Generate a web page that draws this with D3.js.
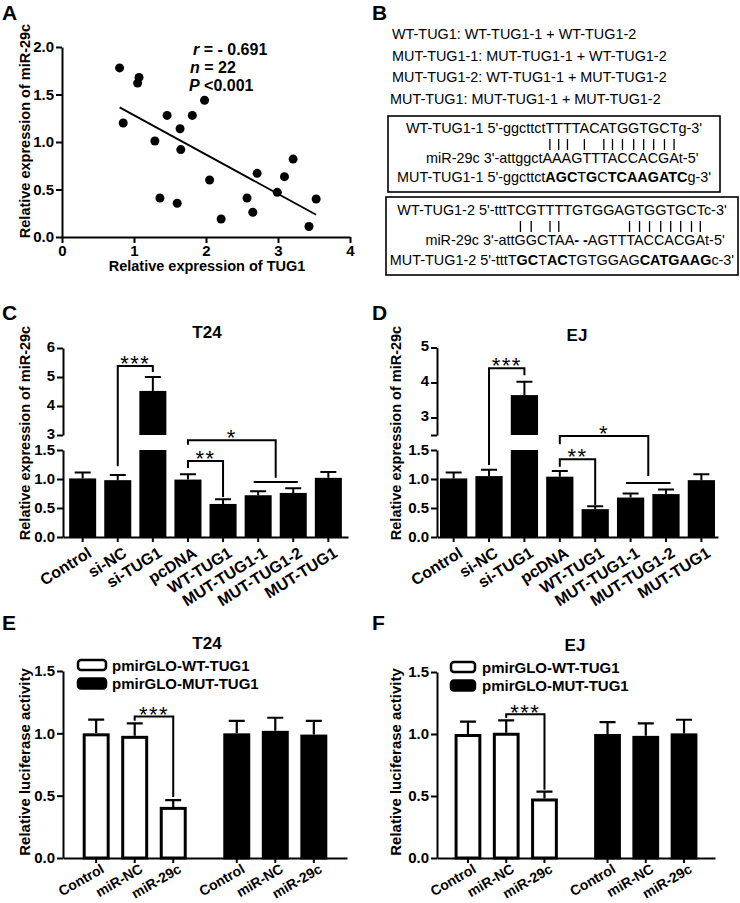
<!DOCTYPE html>
<html><head><meta charset="utf-8">
<script src="https://cdn.jsdelivr.net/npm/d3@7"></script>
<style>
body{margin:0;background:#fff}
svg text{font-family:"Liberation Sans",Arial,sans-serif;fill:#000}
</style></head><body>
<svg id="fig" width="740" height="903"></svg>
<script>
// ================= DATA =================
// Panel A: scatter
const tugExpr = [0.80,0.85,1.07,1.05,1.29,1.36,1.46,1.60,1.64,1.65,1.81,1.98,2.05,2.21,2.57,2.65,2.71,2.99,3.09,3.21,3.53,3.43];
const mirExpr = [1.78,1.20,1.68,1.62,1.01,0.41,1.28,0.355,1.14,0.92,1.28,1.44,0.60,0.19,0.41,0.26,0.67,0.47,0.635,0.82,0.40,0.11];
const fitSlope = -0.414;
const fitIntercept = 1.696;
const statLines = [["r"," = - 0.691"],["n"," = 22"],["P"," <0.001"]];
const xTicksA = [0,1,2,3,4];
const yTicksA = [0,0.5,1,1.5,2];

// Panel B: constructs and binding sites
const bHeader = ["WT-TUG1: WT-TUG1-1 + WT-TUG1-2","MUT-TUG1-1: MUT-TUG1-1 + WT-TUG1-2","MUT-TUG1-2: WT-TUG1-1 + MUT-TUG1-2","MUT-TUG1: MUT-TUG1-1 + MUT-TUG1-2"];
const site1WT  = [["WT-TUG1-1 5'-ggcttctTTTTACATGGTGCTg-3'",false]];
const site1Mir = [["miR-29c 3'-attggctAAAGTTTACCACGAt-5'",false]];
const site1Mut = [["MUT-TUG1-1 5'-ggcttct",false],["AGC",true],["T",false],["G",true],["C",false],["TCAAGATC",true],["g-3'",false]];
const site1Seed = ["TTTTACATGGTGCT","AAAGTTTACCACGA"];
const site1Pairs = [0,1,2,4,6,7,8,9,10,11,12,13];
const site2WT  = [["WT-TUG1-2 5'-tttTCGTTTTGTGGAGTGGTGCTc-3'",false]];
const site2Mir = [["miR-29c 3'-attGGCTAA",false],["- -",true],["AGTTTACCACGAt-5'",false]];
const site2Mut = [["MUT-TUG1-2 5'-tttT",false],["GC",true],["T",false],["AC",true],["TGTGGAG",false],["CATGAAG",true],["c-3'",false]];
const site2Seed = ["TCGTTTTGTGGAGTGGTGCT","AGTTTACCACGA"];
const site2Pairs = [1,2,4,5,12,13,14,15,16,17,18,19];

// Panels C / D
const groupsCD = ["Control","si-NC","si-TUG1","pcDNA","WT-TUG1","MUT-TUG1-1","MUT-TUG1-2","MUT-TUG1"];
const t24Mir    = [1.01,0.98,4.52,0.99,0.57,0.72,0.76,1.02];
const t24MirErr = [0.10,0.09,0.48,0.09,0.08,0.07,0.08,0.10];
const ejMir     = [1.01,1.05,3.64,1.04,0.48,0.68,0.74,0.98];
const ejMirErr  = [0.10,0.11,0.38,0.10,0.05,0.07,0.08,0.10];
const lowerTicksCD = [0,0.5,1,1.5];
const t24UpperTicks = [3,4,5,6];
const ejUpperTicks = [2.5,3,4,5];
const t24Brackets = [
  {a:"si-NC", b:["si-TUG1"], top:["U",5.38], dropA:["L",1.22], dropB:["U",5.17], label:"***"},
  {a:"pcDNA", b:["MUT-TUG1-1","MUT-TUG1-2"], top:["L",1.67], dropA:["L",1.59], dropB:["L",1.02], label:"*"},
  {a:"pcDNA", b:["WT-TUG1"], top:["L",1.31], dropA:["L",1.19], dropB:["L",0.69], label:"**"}
];
const t24Span = {a:"MUT-TUG1-1", b:"MUT-TUG1-2", y:["L",0.95]};
const ejBrackets = [
  {a:"si-NC", b:["si-TUG1"], top:["U",4.41], dropA:["L",1.24], dropB:["U",4.21], label:"***"},
  {a:"pcDNA", b:["MUT-TUG1-1","MUT-TUG1-2"], top:["L",1.74], dropA:["L",1.60], dropB:["L",1.05], label:"*"},
  {a:"pcDNA", b:["WT-TUG1"], top:["L",1.34], dropA:["L",1.21], dropB:["L",0.55], label:"**"}
];
const ejSpan = {a:"MUT-TUG1-1", b:"MUT-TUG1-2", y:["L",0.93]};

// Panels E / F
const groupsEF = ["Control","miR-NC","miR-29c"];
const vectorsEF = ["pmirGLO-WT-TUG1","pmirGLO-MUT-TUG1"];
const t24Wt = [1.00,0.98,0.41];  const t24WtErr = [0.11,0.10,0.055];
const t24Mut = [1.00,1.02,0.99]; const t24MutErr = [0.10,0.105,0.11];
const ejWt = [1.00,1.01,0.48];   const ejWtErr = [0.10,0.10,0.055];
const ejMut = [1.00,0.985,1.005]; const ejMutErr = [0.095,0.10,0.11];
const ticksEF = [0,0.5,1,1.5];
const t24Luc = {a:"miR-NC", b:"miR-29c", top:1.136, dropA:1.10, dropB:0.49, label:"***"};
const ejLuc  = {a:"miR-NC", b:"miR-29c", top:1.16, dropA:1.13, dropB:0.55, label:"***"};

// ================= DRAWING =================
const svg = d3.select("#fig");
svg.append("rect").attr("width",740).attr("height",903).attr("fill","#fff");

function styleAxis(g, fs){
  g.select(".domain").attr("stroke","#000").attr("stroke-width",2);
  g.selectAll(".tick line").attr("stroke","#000").attr("stroke-width",2);
  g.selectAll(".tick text").attr("fill","#000").attr("font-size",fs).attr("font-weight","bold")
    .attr("font-family",'"Liberation Sans",Arial,sans-serif');
}
function letter(t,x,y){ svg.append("text").attr("x",x).attr("y",y).attr("font-size",21).attr("font-weight","bold").text(t); }
function yTitle(t,x,y,fs){
  svg.append("text").attr("transform",`translate(${x},${y}) rotate(-90)`).attr("text-anchor","middle")
    .attr("font-size",fs).attr("font-weight","bold").text(t);
}

// ---------- Panel A ----------
letter("A",2,19.5);
const xA = d3.scaleLinear().domain([0,4]).range([62,350]);
const yA = d3.scaleLinear().domain([0,2]).range([237,47]);
svg.append("g").attr("transform",`translate(0,${yA(0)})`)
  .call(d3.axisBottom(xA).tickValues(xTicksA).tickFormat(d3.format("d")).tickSize(6).tickSizeOuter(0).tickPadding(2))
  .call(g=>styleAxis(g,15));
svg.append("g").attr("transform",`translate(${xA(0)},0)`)
  .call(d3.axisLeft(yA).tickValues(yTicksA).tickFormat(d3.format(".1f")).tickSize(6).tickSizeOuter(0).tickPadding(2))
  .call(g=>styleAxis(g,15));
svg.append("g").selectAll("circle").data(tugExpr.map((v,i)=>[v,mirExpr[i]])).join("circle")
  .attr("cx",d=>xA(d[0])).attr("cy",d=>yA(d[1])).attr("r",4.5).attr("fill","#000");
const fitX = d3.extent(tugExpr);
svg.append("line").attr("x1",xA(fitX[0])).attr("y1",yA(fitIntercept+fitSlope*fitX[0]))
  .attr("x2",xA(fitX[1])).attr("y2",yA(fitIntercept+fitSlope*fitX[1])).attr("stroke","#000").attr("stroke-width",1.8);
const statX = [193,190,189], statY = [55,73,91];
statLines.forEach((s,i)=>{
  const t = svg.append("text").attr("x",statX[i]).attr("y",statY[i]).attr("font-size",16).attr("font-weight","bold");
  t.append("tspan").attr("font-style","italic").text(s[0]);
  t.append("tspan").text(s[1]);
});
svg.append("text").attr("x",207).attr("y",271).attr("text-anchor","middle").attr("font-size",14.5).attr("font-weight","bold").text("Relative expression of TUG1");
yTitle("Relative expression of miR-29c",29.5,131,14.5);

// ---------- Panel B ----------
letter("B",372,19.5);
const headX = [392,392,392,390];
bHeader.forEach((t,i)=>{
  svg.append("text").attr("x",headX[i]).attr("y",39+i*21.7).attr("font-size",14.4).text(t);
});
function segText(segs,x,y,anchor){
  const t = svg.append("text").attr("x",x).attr("y",y).attr("font-size",14.4).attr("text-anchor",anchor);
  segs.forEach(([s,b])=>{ const sp=t.append("tspan").text(s); if(b) sp.attr("font-weight","bold"); });
  return t;
}
function seqBox(box, wt, mir, mut, seeds, pairs, ys){
  svg.append("rect").attr("x",box[0]).attr("y",box[1]).attr("width",box[2]).attr("height",box[3])
    .attr("fill","none").attr("stroke","#000").attr("stroke-width",1.6);
  const cxBox = box[0]+box[2]/2;
  const tW = segText(wt,cxBox,ys[0],"middle");
  segText(mut,cxBox,ys[2],"middle");
  const tR = segText(mir,0,ys[1],"start");
  const wtStr = wt.map(s=>s[0]).join(""), mirStr = mir.map(s=>s[0]).join("");
  const wS = wtStr.indexOf(seeds[0]), mS = mirStr.indexOf(seeds[1]);
  const wLast = tW.node().getExtentOfChar(wS+seeds[0].length-1);
  const mLast = tR.node().getExtentOfChar(mS+seeds[1].length-1);
  tR.attr("x",(wLast.x+wLast.width/2)-(mLast.x+mLast.width/2));
  pairs.forEach(p=>{
    const e = tW.node().getExtentOfChar(wS+p);
    svg.append("line").attr("x1",e.x+e.width/2).attr("x2",e.x+e.width/2)
      .attr("y1",ys[0]+6).attr("y2",ys[1]-13).attr("stroke","#000").attr("stroke-width",1.3);
  });
}
seqBox([388,116,332,76], site1WT, site1Mir, site1Mut, site1Seed, site1Pairs, [133,163,182]);
seqBox([386,197,352,78], site2WT, site2Mir, site2Mut, site2Seed, site2Pairs, [215,245,265]);

// ---------- Panels C / D ----------
function brokenPanel(o){
  const g = svg.append("g");
  const x = d3.scaleBand().domain(groupsCD).range(o.xr).paddingInner(0.23).paddingOuter(o.po);
  const yL = d3.scaleLinear().domain([0,1.5]).range(o.yLr);
  const yU = d3.scaleLinear().domain(o.uDom).range(o.yUr);
  const Y = (seg,v)=> seg==="U"? yU(v): yL(v);
  const cx = c => x(c)+x.bandwidth()/2;
  g.append("g").attr("transform",`translate(${o.xr[0]},0)`)
    .call(d3.axisLeft(yL).tickValues(lowerTicksCD).tickFormat(d3.format(".1f")).tickSize(6).tickSizeOuter(0).tickPadding(2))
    .call(a=>styleAxis(a,15));
  g.append("g").attr("transform",`translate(${o.xr[0]},0)`)
    .call(d3.axisLeft(yU).tickValues(o.uTicks).tickFormat(d=>Number.isInteger(d)?d:"").tickSize(6).tickSizeOuter(0).tickPadding(2))
    .call(a=>{ styleAxis(a,15); a.selectAll(".tick text").attr("dy","0.2em"); });
  g.append("g").attr("transform",`translate(0,${o.yLr[0]})`)
    .call(d3.axisBottom(x).tickSize(5).tickSizeOuter(0).tickFormat(""))
    .call(a=>styleAxis(a,15));
  g.selectAll("text.cat").data(groupsCD).join("text").attr("class","cat")
    .attr("transform",d=>`translate(${cx(d)+4},${o.yLr[0]+9}) rotate(-32)`)
    .attr("text-anchor","end").attr("dy","0.72em").attr("font-size",16).attr("font-weight","bold").text(d=>d);
  const rows = groupsCD.map((c,i)=>({c, v:o.vals[i], e:o.errs[i]}));
  // bars (lower part)
  g.selectAll("rect.low").data(rows).join("rect").attr("class","low")
    .attr("x",d=>x(d.c)).attr("width",x.bandwidth())
    .attr("y",d=>yL(Math.min(d.v,1.5))).attr("height",d=>yL(0)-yL(Math.min(d.v,1.5))).attr("fill","#000");
  // bars (upper part, broken axis)
  g.selectAll("rect.up").data(rows.filter(d=>d.v>1.5)).join("rect").attr("class","up")
    .attr("x",d=>x(d.c)).attr("width",x.bandwidth())
    .attr("y",d=>yU(d.v)).attr("height",d=>yU(o.uDom[0])-yU(d.v)).attr("fill","#000");
  // error bars
  rows.forEach(d=>{
    const f = d.v>1.5? yU: yL;
    const c = cx(d.c);
    g.append("path").attr("d",`M${c},${f(d.v)}V${f(d.v+d.e)}M${c-8},${f(d.v+d.e)}H${c+8}`)
      .attr("stroke","#000").attr("stroke-width",2).attr("fill","none");
  });
  // significance brackets
  o.brackets.forEach(b=>{
    const xa = cx(b.a), xb = d3.mean(b.b,cx), yt = Y(...b.top);
    g.append("path").attr("d",`M${xa},${Y(...b.dropA)}V${yt}H${xb}V${Y(...b.dropB)}`)
      .attr("stroke","#000").attr("stroke-width",2).attr("fill","none");
    g.append("text").attr("x",(xa+xb)/2).attr("y",yt+5).attr("text-anchor","middle")
      .attr("font-size",22).attr("letter-spacing",1.5).text(b.label);
  });
  const sy = Y(...o.span.y);
  g.append("line").attr("x1",cx(o.span.a)-4.5).attr("x2",cx(o.span.b)+4.5).attr("y1",sy).attr("y2",sy)
    .attr("stroke","#000").attr("stroke-width",2);
  g.append("text").attr("x",o.title[1]).attr("y",o.title[2]).attr("text-anchor","middle")
    .attr("font-size",17).attr("font-weight","bold").text(o.title[0]);
}
letter("C",2,319.5);
brokenPanel({xr:[63,348], po:0.175, yLr:[537,450], uDom:[3,6], yUr:[435,348], uTicks:t24UpperTicks,
  vals:t24Mir, errs:t24MirErr, brackets:t24Brackets, span:t24Span, title:["T24",207,338]});
yTitle("Relative expression of miR-29c",29.5,433,14.5);
letter("D",372,319.5);
brokenPanel({xr:[437,718], po:0.085, yLr:[537,450], uDom:[2.5,5], yUr:[435,347.5], uTicks:ejUpperTicks,
  vals:ejMir, errs:ejMirErr, brackets:ejBrackets, span:ejSpan, title:["EJ",577,341]});
yTitle("Relative expression of miR-29c",401,433,14.5);

// ---------- Panels E / F ----------
function lucPanel(o){
  const g = svg.append("g");
  const outer = d3.scaleBand().domain(vectorsEF).range(o.xr).paddingInner(0.26).paddingOuter(o.po);
  const inner = d3.scaleBand().domain(groupsEF).range([0,outer.bandwidth()]).paddingInner(0.3);
  const y = d3.scaleLinear().domain([0,1.5]).range(o.yr);
  const cx = (v,c)=> outer(v)+inner(c)+inner.bandwidth()/2;
  g.append("g").attr("transform",`translate(${o.xr[0]},0)`)
    .call(d3.axisLeft(y).tickValues(ticksEF).tickFormat(d3.format(".1f")).tickSize(6).tickSizeOuter(0).tickPadding(2))
    .call(a=>styleAxis(a,15));
  g.append("g").attr("transform",`translate(0,${o.yr[0]})`)
    .call(d3.axisBottom(outer).tickValues([]).tickSizeOuter(0)).call(a=>styleAxis(a,15));
  vectorsEF.forEach(v=>{
    g.append("g").attr("transform",`translate(${outer(v)},${o.yr[0]})`)
      .call(d3.axisBottom(inner).tickSize(5).tickSizeOuter(0).tickFormat(""))
      .call(a=>{ styleAxis(a,15); a.select(".domain").remove(); });
  });
  const rows = [];
  vectorsEF.forEach((v,k)=> groupsEF.forEach((c,i)=> rows.push({v,c,k,val:o.series[k][i],e:o.errs[k][i]})));
  g.selectAll("rect.bar").data(rows).join("rect").attr("class","bar")
    .attr("x",d=>outer(d.v)+inner(d.c)+1.5).attr("width",inner.bandwidth()-3)
    .attr("y",d=>y(d.val)+1.5).attr("height",d=>y(0)-y(d.val)-1.5)
    .attr("fill",d=>d.k===0?"#fff":"#000").attr("stroke","#000").attr("stroke-width",3);
  rows.forEach(d=>{
    const c = cx(d.v,d.c);
    g.append("path").attr("d",`M${c},${y(d.val)}V${y(d.val+d.e)}M${c-8},${y(d.val+d.e)}H${c+8}`)
      .attr("stroke","#000").attr("stroke-width",2.2).attr("fill","none");
  });
  vectorsEF.forEach(v=> g.selectAll(null).data(groupsEF).join("text")
    .attr("transform",c=>`translate(${cx(v,c)+4},${o.yr[0]+5}) rotate(-30)`)
    .attr("text-anchor","end").attr("dy","0.72em").attr("font-size",14).attr("font-weight","bold").text(c=>c));
  const b = o.bracket;
  const xa = cx(vectorsEF[0],b.a), xb = cx(vectorsEF[0],b.b), yt = y(b.top);
  g.append("path").attr("d",`M${xa},${y(b.dropA)}V${yt}H${xb}V${y(b.dropB)}`)
    .attr("stroke","#000").attr("stroke-width",2).attr("fill","none");
  g.append("text").attr("x",(xa+xb)/2).attr("y",yt+5.5).attr("text-anchor","middle")
    .attr("font-size",22).attr("letter-spacing",1.5).text(b.label);
  // legend
  vectorsEF.forEach((v,k)=>{
    const ly = o.leg[1]+k*18.5;
    g.append("rect").attr("x",o.leg[0]).attr("y",ly).attr("width",o.leg[2]).attr("height",10).attr("rx",3)
      .attr("fill",k===0?"#fff":"#000").attr("stroke","#000").attr("stroke-width",2.5);
    g.append("text").attr("x",o.leg[3]).attr("y",ly+10.5).attr("font-size",15).attr("font-weight","bold").text(v);
  });
  g.append("text").attr("x",o.title[1]).attr("y",o.title[2]).attr("text-anchor","middle")
    .attr("font-size",17).attr("font-weight","bold").text(o.title[0]);
}
letter("E",2,629.5);
lucPanel({xr:[63,347], po:0.14, yr:[858,671], series:[t24Wt,t24Mut], errs:[t24WtErr,t24MutErr],
  bracket:t24Luc, leg:[78,660,28,112], title:["T24",207,649]});
yTitle("Relative luciferase activity",29.5,762,15);
letter("F",372,629.5);
lucPanel({xr:[437,715], po:0.126, yr:[858,672], series:[ejWt,ejMut], errs:[ejWtErr,ejMutErr],
  bracket:ejLuc, leg:[451,662,24,482], title:["EJ",575,651]});
yTitle("Relative luciferase activity",401,762,15);
</script></body></html>
